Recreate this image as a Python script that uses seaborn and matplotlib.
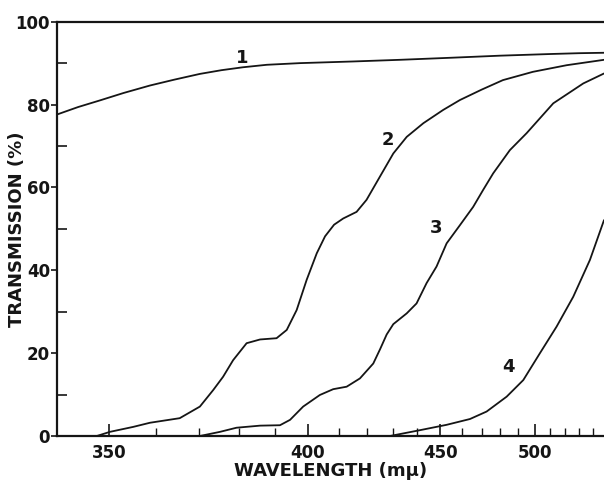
import numpy as np
import pandas as pd
import matplotlib
matplotlib.use("Agg")
import matplotlib.pyplot as plt
import seaborn as sns
from matplotlib.ticker import MultipleLocator, FixedLocator

# ---- data ----
curve1_wl = [340.1, 344, 348.2, 353, 358.6, 364, 370.1, 375.5, 381.1, 387.7, 397.5, 415, 432.7,
             455, 479.8, 510, 530, 548.9]
curve1_t = [77.6, 79.4, 81.0, 82.8, 84.6, 86.0, 87.4, 88.3, 89.0, 89.6, 90.0, 90.4, 90.8,
            91.3, 91.8, 92.2, 92.4, 92.5]

curve2_wl = [347.6, 350.2, 355.0, 358.6, 365.3, 370.1, 373.4, 375.9, 378.5, 382.1, 385.8, 390.5,
             393.5, 396.5, 399.6, 402.8, 405.5, 408.5, 411.6, 416.3, 419.9, 424.9, 430.1, 435.5,
             442.5, 451.3, 459.2, 470, 481.4, 498.9, 521.0, 548.9]
curve2_t = [0, 1.0, 2.2, 3.2, 4.3, 7.1, 11.1, 14.3, 18.3, 22.4, 23.3, 23.6,
            25.6, 30.4, 37.7, 44.1, 48.2, 51.0, 52.5, 54.1, 57.0, 62.6, 68.2, 72.2,
            75.5, 78.7, 81.1, 83.6, 85.9, 87.9, 89.5, 90.8]

curve3_wl = [370.1, 375.1, 379.4, 385.8, 391.5, 394.5, 398.5, 403.8, 408.2, 412.8, 417.5, 422.4,
             425.0, 427.5, 430.1, 435.5, 439.6, 443.9, 448.3, 452.9, 459.2, 465.7, 470.8, 476.1,
             485.3, 495.1, 511.9, 532.9, 548.9]
curve3_t = [0, 1.0, 2.0, 2.5, 2.6, 3.9, 7.1, 9.9, 11.3, 11.9, 13.9, 17.5,
            21.0, 24.5, 27.0, 29.6, 32.0, 36.9, 40.9, 46.5, 50.9, 55.3, 59.4, 63.4,
            69.0, 73.1, 80.3, 85.1, 87.5]

curve4_wl = [428.8, 441.0, 452.9, 464.1, 472.6, 483.5, 493.1, 503.3, 514.1, 525.6, 537.9, 548.9]
curve4_t = [0, 1.4, 2.7, 4.1, 5.9, 9.5, 13.5, 20.0, 26.4, 33.6, 42.5, 52.1]

curve_names = ["1", "2", "3", "4"]
label_wl = [381.0, 428.0, 448.3, 484.4]
label_t = [91.2, 71.4, 50.1, 16.7]

y_major = [0, 20, 40, 60, 80, 100]
x_major = [350, 400, 450, 500]

frames = []
for name, wl, t in zip(curve_names,
                       [curve1_wl, curve2_wl, curve3_wl, curve4_wl],
                       [curve1_t, curve2_t, curve3_t, curve4_t]):
    frames.append(pd.DataFrame({"wavelength": wl, "transmission": t, "curve": name}))
df = pd.concat(frames, ignore_index=True)

# ---- style ----
sns.set_theme(style="ticks")
plt.rcParams["font.family"] = ["DejaVu Sans"]
ink = "#151515"

fig = plt.figure(figsize=(6.04, 4.80), dpi=100)
ax = fig.add_axes([57 / 604, 44 / 480, 1 - 57 / 604, (436 - 21.7) / 480])

# prism-type (Hartmann) wavelength scale
L0 = 151.5
def fwd(x):
    x = np.asarray(x, dtype=float)
    return -1.0 / (x - L0)
def inv(y):
    y = np.asarray(y, dtype=float)
    return L0 - 1.0 / y
ax.set_xscale("function", functions=(fwd, inv))

sns.lineplot(data=df, x="wavelength", y="transmission", hue="curve", units="curve",
             estimator=None, sort=False, palette=[ink] * 4, linewidth=1.3,
             legend=False, ax=ax)
for line in ax.get_lines():
    line.set_solid_joinstyle("round")

for name, lx, ly in zip(curve_names, label_wl, label_t):
    ax.text(lx, ly, name, ha="center", va="center", fontsize=13,
            fontweight="bold", color=ink)

ax.set_xlim(340.1, 548.9)
ax.set_ylim(0, 100)

ax.xaxis.set_major_locator(FixedLocator(x_major))
ax.xaxis.set_minor_locator(FixedLocator(list(range(340, 550, 10))))
ax.set_xticklabels([str(v) for v in x_major])
ax.yaxis.set_major_locator(FixedLocator(y_major))
ax.yaxis.set_minor_locator(MultipleLocator(10))
ax.set_yticklabels([str(v) for v in y_major])

for s in ["left", "bottom", "top"]:
    ax.spines[s].set_linewidth(1.6)
    ax.spines[s].set_color(ink)
ax.spines["right"].set_visible(False)

ax.tick_params(axis="x", which="major", direction="in", length=9, width=1.2,
               pad=6, labelsize=12, colors=ink)
ax.tick_params(axis="x", which="minor", direction="in", length=6, width=1.0, colors=ink)
ax.tick_params(axis="y", which="major", direction="out", length=4, width=1.2,
               pad=1, labelsize=12, colors=ink)
ax.tick_params(axis="y", which="minor", direction="in", length=7, width=1.2, colors=ink)
for lab in ax.get_xticklabels() + ax.get_yticklabels():
    lab.set_fontweight("bold")

ax.set_xlabel("WAVELENGTH (mμ)", fontsize=13, fontweight="bold", color=ink)
ax.set_ylabel("TRANSMISSION (%)", fontsize=13, fontweight="bold", color=ink)
ax.xaxis.set_label_coords(0.5, -0.062)
ax.yaxis.set_label_coords(-0.057, 0.5)

fig.savefig("out.png", dpi=100)
